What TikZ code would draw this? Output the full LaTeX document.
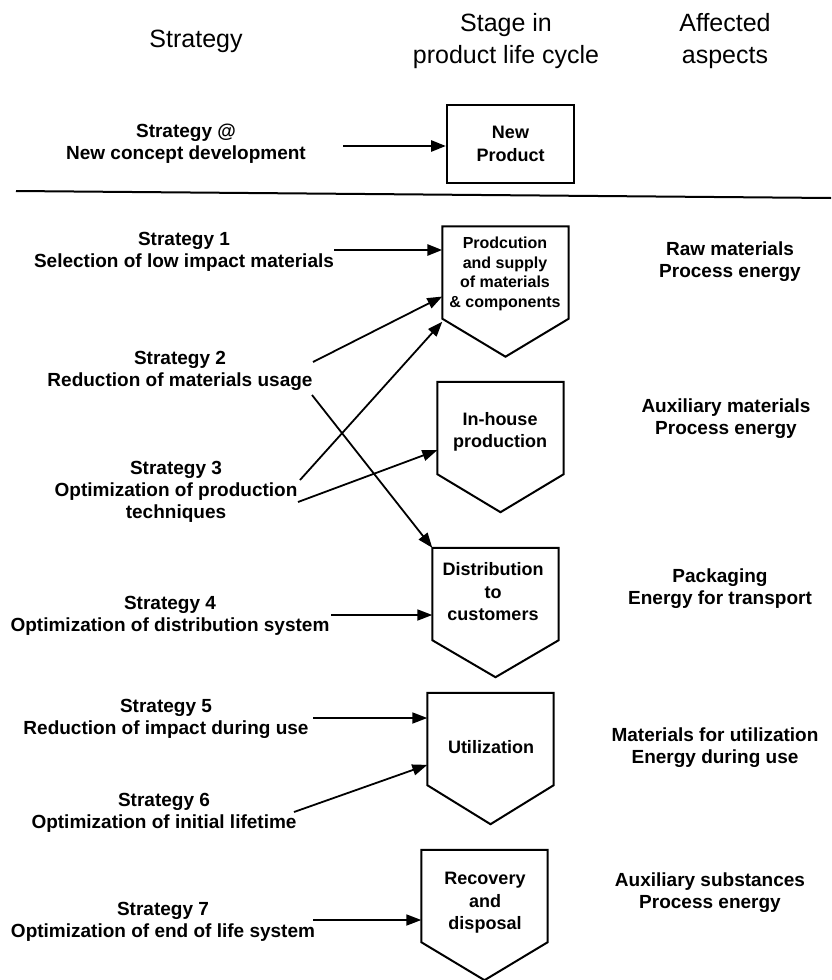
\documentclass[tikz,border=0pt]{standalone}
\usepackage{fontspec}
\setmainfont{Liberation Sans}
\usetikzlibrary{arrows.meta,calc}
\newcommand{\pentout}[2]{\draw[outline] (#1.north west) -- (#1.north east) -- (#1.south east) -- ([yshift=-#2]#1.south) -- (#1.south west) -- cycle;}
\begin{document}
\begin{tikzpicture}[x=1pt,y=-1pt,
  hdr/.style={font=\fontsize{25}{32}\selectfont, align=center, inner sep=0pt},
  txt/.style={font=\bfseries\fontsize{19}{22}\selectfont, align=center, inner sep=0pt},
  btxt/.style={font=\bfseries\fontsize{18}{22.5}\selectfont, align=center, inner sep=0pt},
  smtxt/.style={font=\bfseries\fontsize{16}{19.5}\selectfont, align=center, inner sep=0pt},
  stagebox/.style={draw=none, inner sep=0pt, minimum width=126pt, minimum height=92pt},
  outline/.style={line width=2pt, line join=miter},
  arr/.style={line width=1.8pt, -{Triangle[length=15pt,width=11pt]}},
  arrthick/.style={arr, line width=2.8pt},
]
\fill[white] (0,0) rectangle (831,980);
\useasboundingbox (0,0) rectangle (831,980);

% headers
\node[hdr] (h1) at (196,41) {Strategy};
\node[hdr] (h2) at (506,41) {Stage in\\product life cycle};
\node[hdr] (h3) at (725,41) {Affected\\aspects};

% new product
\node[draw, line width=2pt, minimum width=127pt, minimum height=78pt, inner sep=0pt, btxt] (np) at (510.5,144) {New\\Product};
\node[txt] (s0) at (186,144) {Strategy @\\New concept development};
\coordinate (a0s) at (343,146);
\draw[arrthick] (a0s) -- (a0s -| np.west);

% divider
\coordinate (dl) at (16,191);
\coordinate (dr) at (831,198);
\draw[line width=2pt] (dl) -- (dr);

% stage boxes
\node[stagebox] (b1) at (505.5,272.5) {};
\node[stagebox] (b2) at (500.5,428) {};
\node[stagebox] (b3) at (495.5,594) {};
\node[stagebox] (b4) at (490.5,739) {};
\node[stagebox] (b5) at (484.5,896) {};
\pentout{b1}{38pt}
\pentout{b2}{38pt}
\pentout{b3}{37pt}
\pentout{b4}{39pt}
\pentout{b5}{38pt}

\node[smtxt] (b1t) at (505,274) {Prodcution\\and supply\\of materials\\\& components};
\node[btxt] (b2t) at (500,432) {In-house\\production};
\node[btxt] (b3t) at (493,592) {Distribution\\to\\customers};
\node[btxt] (b4t) at (491,747) {Utilization};
\node[btxt] (b5t) at (485,903) {Recovery\\and\\disposal};

% strategies
\node[txt] (s1) at (184,252) {Strategy 1\\Selection of low impact materials};
\node[txt] (s2) at (180,371) {Strategy 2\\Reduction of materials usage};
\node[txt] (s3) at (176,492) {Strategy 3\\Optimization of production\\techniques};
\node[txt] (s4) at (170,616) {Strategy 4\\Optimization of distribution system};
\node[txt] (s5) at (166,719) {Strategy 5\\Reduction of impact during use};
\node[txt] (s6) at (164,813) {Strategy 6\\Optimization of initial lifetime};
\node[txt] (s7) at (163,922) {Strategy 7\\Optimization of end of life system};

% affected aspects
\node[txt] (r1) at (730,262) {Raw materials\\Process energy};
\node[txt] (r2) at (726,419) {Auxiliary materials\\Process energy};
\node[txt] (r3) at (720,589) {Packaging\\Energy for transport};
\node[txt] (r4) at (715,748) {Materials for utilization\\Energy during use};
\node[txt] (r5) at (710,893) {Auxiliary substances\\Process energy};

% arrows
\coordinate (a1s) at (334,250);
\coordinate (a2s1) at (313,362);
\coordinate (a2s2) at (312,395);
\coordinate (a3s1) at (300,480);
\coordinate (a3s2) at (298,502);
\coordinate (a4s) at (331,615);
\coordinate (a5s) at (313,718);
\coordinate (a6s) at (294,812);
\coordinate (a7s) at (313,920);

\draw[arrthick] (a1s) -- (a1s -| b1.west);
\draw[arr] (a2s1) -- ($(b1.north west)!0.76!(b1.south west)$);
\draw[arr] (a2s2) -- (b3.north west);
\draw[arr] (a3s1) -- ([yshift=-3pt]b1.south west);
\draw[arr] (a3s2) -- ($(b2.north west)!0.74!(b2.south west)$);
\draw[arr] (a4s) -- (a4s -| b3.west);
\draw[arr] (a5s) -- (a5s -| b4.west);
\draw[arr] (a6s) -- ($(b4.north west)!0.78!(b4.south west)$);
\draw[arr] (a7s) -- (a7s -| b5.west);
\end{tikzpicture}
\end{document}
